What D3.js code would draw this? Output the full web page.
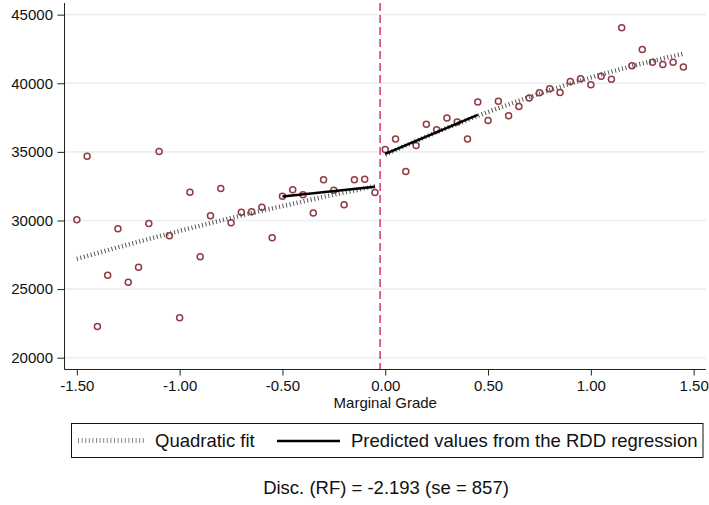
<!DOCTYPE html>
<html>
<head>
<meta charset="utf-8">
<script src="https://cdn.jsdelivr.net/npm/d3@7"></script>
<style>
  body { margin: 0; background: #fff; }
  svg { display: block; font-family: "Liberation Sans", Arial, sans-serif; }
</style>
</head>
<body>
<svg id="chart" width="709" height="505"></svg>
<script>
// bins of the running variable
const binX = [-1.50, -1.45, -1.40, -1.35, -1.30, -1.25, -1.20, -1.15, -1.10, -1.05,
  -1.00, -0.95, -0.90, -0.85, -0.80, -0.75, -0.70, -0.65, -0.60, -0.55,
  -0.50, -0.45, -0.40, -0.35, -0.30, -0.25, -0.20, -0.15, -0.10, -0.05,
  0.00, 0.05, 0.10, 0.15, 0.20, 0.25, 0.30, 0.35, 0.40, 0.45,
  0.50, 0.55, 0.60, 0.65, 0.70, 0.75, 0.80, 0.85, 0.90, 0.95,
  1.00, 1.05, 1.10, 1.15, 1.20, 1.25, 1.30, 1.35, 1.40, 1.45];
// bin means
const binY = [30050, 34690, 22270, 26010, 29400, 25500, 26600, 29780, 35030, 28880,
  22910, 32060, 27350, 30340, 32330, 29830, 30600, 30630, 30970, 28740,
  31770, 32240, 31870, 30540, 32970, 32210, 31140, 32970, 33010, 32040,
  35180, 35930, 33570, 35470, 37020, 36610, 37460, 37170, 35930, 38640,
  37280, 38690, 37630, 38310, 38920, 39310, 39600, 39330, 40130, 40330,
  39890, 40520, 40300, 44050, 41280, 42470, 41540, 41370, 41540, 41180];

// quadratic fit, each side of the cutoff
const fitLeftX = [-1.5, -1.25, -1.0, -0.75, -0.5, -0.25, -0.05];
const fitLeftY = [27200, 28250, 29240, 30180, 31050, 31880, 32500];
const fitRightX = [0, 0.25, 0.5, 0.75, 1.0, 1.25, 1.45];
const fitRightY = [34800, 36430, 37910, 39240, 40420, 41440, 42150];

// predicted values from the RDD regression
const rddLeftX = [-0.5, -0.05];
const rddLeftY = [31750, 32450];
const rddRightX = [0, 0.45];
const rddRightY = [34850, 37700];

const cutoff = -0.025;
const xTicks = [-1.5, -1, -0.5, 0, 0.5, 1, 1.5];
const yTicks = [20000, 25000, 30000, 35000, 40000, 45000];
const legendLabels = ["Quadratic fit", "Predicted values from the RDD regression"];
const note = "Disc. (RF) = -2.193 (se = 857)";

const svg = d3.select("#chart");

const x = d3.scaleLinear().domain([-1.56, 1.56]).range([64.5, 706]);
const y = d3.scaleLinear().domain([19140, 45850]).range([369.5, 3]);

const zip = (xs, ys) => xs.map((v, i) => [v, ys[i]]);
const line = d3.line().x(d => x(d[0])).y(d => y(d[1]));
const curve = d3.line().x(d => x(d[0])).y(d => y(d[1])).curve(d3.curveMonotoneX);

// gridlines
svg.append("g")
  .selectAll("line")
  .data(yTicks)
  .join("line")
  .attr("x1", 64.5).attr("x2", 706)
  .attr("y1", d => y(d)).attr("y2", d => y(d))
  .attr("stroke", "#e8f0f3")
  .attr("stroke-width", 1.6);

// y axis
const yAxis = svg.append("g")
  .attr("transform", "translate(64.5,0)")
  .call(d3.axisLeft(y).tickValues(yTicks).tickFormat(d3.format("d")).tickSize(7).tickPadding(4.5));
yAxis.select(".domain").attr("d", "M0,3V369.5").attr("stroke", "#222");
yAxis.selectAll(".tick line").attr("stroke", "#222");
yAxis.selectAll("text").attr("font-size", 15).attr("fill", "#111").attr("font-family", "Liberation Sans, Arial");

// x axis
const xAxis = svg.append("g")
  .attr("transform", "translate(0,369.5)")
  .call(d3.axisBottom(x).tickValues(xTicks).tickFormat(d3.format(".2f")).tickSize(6).tickPadding(5));
xAxis.select(".domain").attr("d", "M64.5,0H706").attr("stroke", "#222");
xAxis.selectAll(".tick line").attr("stroke", "#222");
xAxis.selectAll("text").attr("font-size", 15).attr("fill", "#111").attr("font-family", "Liberation Sans, Arial")
  .text(d => d3.format(".2f")(d).replace("−", "-"));

svg.append("text")
  .attr("x", x(0)).attr("y", 408)
  .attr("text-anchor", "middle")
  .attr("font-size", 15)
  .attr("fill", "#111")
  .text("Marginal Grade");

// cutoff line
svg.append("line")
  .attr("x1", x(cutoff)).attr("x2", x(cutoff))
  .attr("y1", 3).attr("y2", 369)
  .attr("stroke", "#d8376a")
  .attr("stroke-width", 1.5)
  .attr("stroke-dasharray", "8,4");

// bin means, hollow circles
svg.append("g")
  .selectAll("circle")
  .data(zip(binX, binY))
  .join("circle")
  .attr("cx", d => x(d[0]))
  .attr("cy", d => y(d[1]))
  .attr("r", 3)
  .attr("fill", "none")
  .attr("stroke", "#923a42")
  .attr("stroke-width", 1.5);

// quadratic fits
[zip(fitLeftX, fitLeftY), zip(fitRightX, fitRightY)].forEach(pts => {
  svg.append("path")
    .attr("d", curve(pts))
    .attr("fill", "none")
    .attr("stroke", "#555")
    .attr("stroke-width", 4.5)
    .attr("stroke-dasharray", "1,2.6");
});

// RDD predictions
[zip(rddLeftX, rddLeftY), zip(rddRightX, rddRightY)].forEach(pts => {
  svg.append("path")
    .attr("d", line(pts))
    .attr("fill", "none")
    .attr("stroke", "#000")
    .attr("stroke-width", 2.5);
});

// legend
const leg = svg.append("g");
leg.append("rect")
  .attr("x", 71.5).attr("y", 423.5)
  .attr("width", 631.5).attr("height", 34)
  .attr("fill", "none").attr("stroke", "#111").attr("stroke-width", 1);
leg.append("line")
  .attr("x1", 78).attr("x2", 145).attr("y1", 440.5).attr("y2", 440.5)
  .attr("stroke", "#888").attr("stroke-width", 5).attr("stroke-dasharray", "1,2.6");
leg.append("text")
  .attr("x", 155).attr("y", 446.5)
  .attr("font-size", 18.5).attr("fill", "#111")
  .text(legendLabels[0]);
leg.append("line")
  .attr("x1", 277).attr("x2", 340).attr("y1", 441).attr("y2", 441)
  .attr("stroke", "#000").attr("stroke-width", 2.5);
leg.append("text")
  .attr("x", 351).attr("y", 446.5)
  .attr("font-size", 18.5).attr("fill", "#111")
  .text(legendLabels[1]);

svg.append("text")
  .attr("x", 386).attr("y", 494)
  .attr("text-anchor", "middle")
  .attr("font-size", 18.5)
  .attr("fill", "#111")
  .text(note);
</script>
</body>
</html>
